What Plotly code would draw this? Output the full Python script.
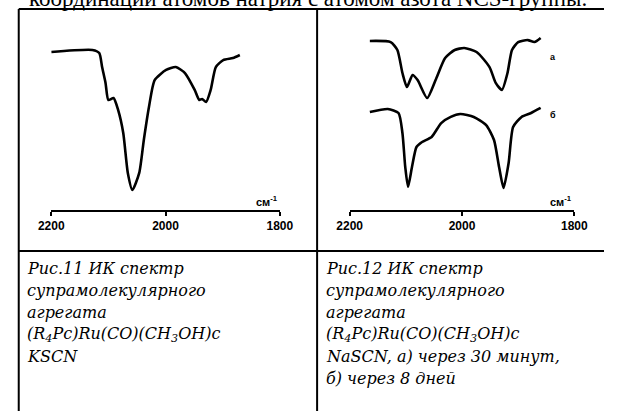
import plotly.graph_objects as go

# ---- data (wavenumber, cm^-1 ; relative transmittance, a.u.) ----
wn_11 = [2200, 2128, 2116, 2111, 2105, 2100, 2091, 2083, 2074, 2066, 2058, 2046, 2038, 2029,
         2019, 1999, 1982, 1966, 1949, 1941, 1936, 1929, 1921, 1912, 1899, 1882, 1870]
t_11 = [87.8, 88.9, 87.2, 79.4, 70.6, 61.1, 62.2, 55.6, 42.8, 20.6, 11.1, 20.6, 38.9, 57.2,
        72.2, 77.8, 79.4, 76.1, 66.7, 61.1, 61.7, 60.0, 66.7, 79.4, 83.3, 84.4, 86.1]

wn_12a = [2164, 2127, 2115, 2106, 2098, 2088, 2079, 2062, 2047, 2030, 2013, 1996, 1974, 1951,
          1940, 1929, 1919, 1911, 1900, 1883, 1871, 1860]
t_12a = [93.9, 93.3, 88.9, 76.1, 68.3, 75.0, 72.2, 62.2, 72.2, 84.4, 88.9, 90.0, 87.8, 79.4,
         70.6, 66.7, 76.1, 88.9, 93.3, 94.4, 93.3, 95.6]

wn_12b = [2164, 2132, 2113, 2106, 2101, 2096, 2089, 2081, 2071, 2054, 2037, 2020, 2003, 1979,
          1957, 1943, 1934, 1926, 1917, 1909, 1894, 1877, 1860]
t_12b = [54.4, 56.1, 53.9, 42.8, 23.9, 12.8, 23.9, 35.0, 37.8, 40.6, 48.3, 51.7, 53.3, 51.7,
         47.2, 38.9, 23.9, 12.2, 26.1, 46.1, 51.7, 53.9, 56.7]

tick_vals = [2200, 2000, 1800]
tick_text = ["2200", "2000", "1800"]
unit_label = "см<sup>-1</sup>"
series_labels = ["а", "б"]

top_text = "координации атомов натрия с атомом азота NCS-группы."
caption_11 = ["Рис.11 ИК спектр", "супрамолекулярного", "агрегата",
              "(R<sub>4</sub>Pc)Ru(CO)(CH<sub>3</sub>OH)с", "KSCN"]
caption_12 = ["Рис.12 ИК спектр", "супрамолекулярного", "агрегата",
              "(R<sub>4</sub>Pc)Ru(CO)(CH<sub>3</sub>OH)с",
              "NaSCN, а) через 30 минут,", "б) через 8 дней"]

W, H = 618, 411
def px(x): return x / W
def py(y): return 1 - y / H

fig = go.Figure()
line = dict(color="black", width=2.6, shape="spline", smoothing=0.6)
fig.add_trace(go.Scatter(x=wn_11, y=t_11, mode="lines", line=line, xaxis="x", yaxis="y",
                         showlegend=False, hoverinfo="skip"))
fig.add_trace(go.Scatter(x=wn_12a, y=t_12a, mode="lines", line=line, xaxis="x2", yaxis="y2",
                         showlegend=False, hoverinfo="skip"))
fig.add_trace(go.Scatter(x=wn_12b, y=t_12b, mode="lines", line=line, xaxis="x2", yaxis="y2",
                         showlegend=False, hoverinfo="skip"))

ydom = [py(210), py(30)]
xax = dict(range=[2200, 1800], showline=True, linecolor="black", linewidth=2,
           ticks="outside", ticklen=4, tickwidth=2, tickcolor="black",
           tickvals=tick_vals, ticktext=tick_text, showgrid=False, zeroline=False,
           tickfont=dict(family="Liberation Sans", size=12, color="black", weight="bold"))
yax = dict(range=[0, 100], visible=False, domain=ydom)

fig.update_layout(
    width=W, height=H, margin=dict(l=0, r=0, t=0, b=0),
    paper_bgcolor="white", plot_bgcolor="white",
    xaxis=dict(xax, domain=[px(40), px(279)], anchor="y"),
    yaxis=dict(yax, anchor="x"),
    xaxis2=dict(xax, domain=[px(352), px(587)], anchor="y2"),
    yaxis2=dict(yax, anchor="x2"),
)

# table rules
shapes = [
    dict(x0=px(6), x1=1, y0=py(9), y1=py(9)),
    dict(x0=px(6), x1=px(6), y0=py(9), y1=0),
    dict(x0=px(318), x1=px(318), y0=py(9), y1=0),
    dict(x0=px(6), x1=1, y0=py(251), y1=py(251)),
]
for s in shapes:
    fig.add_shape(type="line", xref="paper", yref="paper", line=dict(color="black", width=2), **s)

ann = []
ann.append(dict(text=top_text, x=px(15), y=py(-2), xanchor="left", yanchor="middle",
                font=dict(family="Liberation Serif", size=23, color="black")))
# unit labels
for xr in ["x", "x2"]:
    ann.append(dict(text=unit_label, xref=xr + " domain", yref="paper", x=1, y=py(201),
                    xanchor="right", yanchor="middle", showarrow=False,
                    font=dict(family="Liberation Sans", size=11, color="black", weight="bold")))
# series labels
ann.append(dict(text=series_labels[0], x=px(565), y=py(57), xanchor="center", yanchor="middle",
                font=dict(family="Liberation Sans", size=9, color="black", weight="bold")))
ann.append(dict(text=series_labels[1], x=px(565), y=py(115), xanchor="center", yanchor="middle",
                font=dict(family="Liberation Sans", size=9, color="black", weight="bold")))
cap_font = dict(family="DejaVu Serif", size=16, color="black", style="italic")
for i, t in enumerate(caption_11):
    ann.append(dict(text=t, x=px(13), y=py(268 + 22 * i), xanchor="left", yanchor="middle", font=cap_font))
for i, t in enumerate(caption_12):
    ann.append(dict(text=t, x=px(325), y=py(268 + 22 * i), xanchor="left", yanchor="middle", font=cap_font))
for a in ann:
    a.setdefault("xref", "paper")
    a.setdefault("yref", "paper")
    a["showarrow"] = False
    fig.add_annotation(**a)

fig.write_html("out.html", config={"displayModeBar": False},
               post_script="document.documentElement.style.overflow='hidden';"
                           "document.body.style.margin='0';document.body.style.overflow='hidden';")
